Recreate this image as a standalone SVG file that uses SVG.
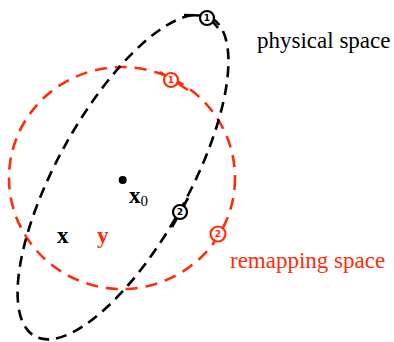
<svg xmlns="http://www.w3.org/2000/svg" width="394" height="342" viewBox="0 0 394 342">
<style>
.blk{fill:none;stroke:#000;stroke-width:2.6;stroke-dasharray:11 7}
.red{fill:none;stroke:#ff2d0a;stroke-width:2.6;stroke-dasharray:12 8}
.mk{fill:#fff;stroke-width:2.2}
.tk{stroke-width:2.6;fill:none}
.num{font-family:"DejaVu Sans",sans-serif;font-size:9px;font-weight:bold;text-anchor:middle}
.lbl{font-family:"Liberation Serif",serif;font-size:23px}
.math{font-family:"Liberation Serif",serif;font-size:23px;font-weight:bold}
</style>
<rect width="394" height="342" fill="#fff"/>
<g id="remapping-ellipse">
<ellipse class="red" cx="122" cy="178" rx="113" ry="111"/>
</g>
<g id="physical-ellipse">
<ellipse class="blk" cx="123" cy="177" rx="182" ry="66" transform="rotate(-61 123 177)"/>
</g>
<g id="red-marker-1">
<line class="tk" stroke="#ff2d0a" x1="160" y1="72" x2="188" y2="90"/>
<circle class="mk" stroke="#ff2d0a" cx="171" cy="80" r="7"/>
<text class="num" fill="#ff2d0a" x="171" y="83.3">1</text>
</g>
<g id="red-marker-2">
<circle class="mk" stroke="#ff2d0a" cx="218" cy="234" r="7.5"/>
<text class="num" fill="#ff2d0a" x="218" y="237.3">2</text>
</g>
<g id="black-marker-1">
<path class="tk" stroke="#000" d="M184 15 L200 15.5"/>
<path class="tk" stroke="#000" d="M213 22 L218 28"/>
<circle class="mk" stroke="#000" cx="207" cy="18" r="7"/>
<text class="num" fill="#000" x="207" y="21.3">1</text>
</g>
<g id="black-marker-2">
<line class="tk" stroke="#000" x1="188" y1="198" x2="172" y2="227"/>
<circle class="mk" stroke="#000" cx="180" cy="212" r="7"/>
<text class="num" fill="#000" x="180" y="215.3">2</text>
</g>
<g id="x0">
<circle cx="122.7" cy="180" r="4" fill="#000"/>
<text class="math" x="129" y="203">x<tspan font-weight="normal" font-size="15" dy="3">0</tspan></text>
</g>
<g id="labels">
<text class="math" x="57" y="243">x</text>
<text class="math" x="97" y="243" fill="#ff2d0a">y</text>
<text class="lbl" x="257" y="48" fill="#000">physical space</text>
<text class="lbl" x="230" y="268" fill="#ff2d0a">remapping space</text>
</g>
</svg>
